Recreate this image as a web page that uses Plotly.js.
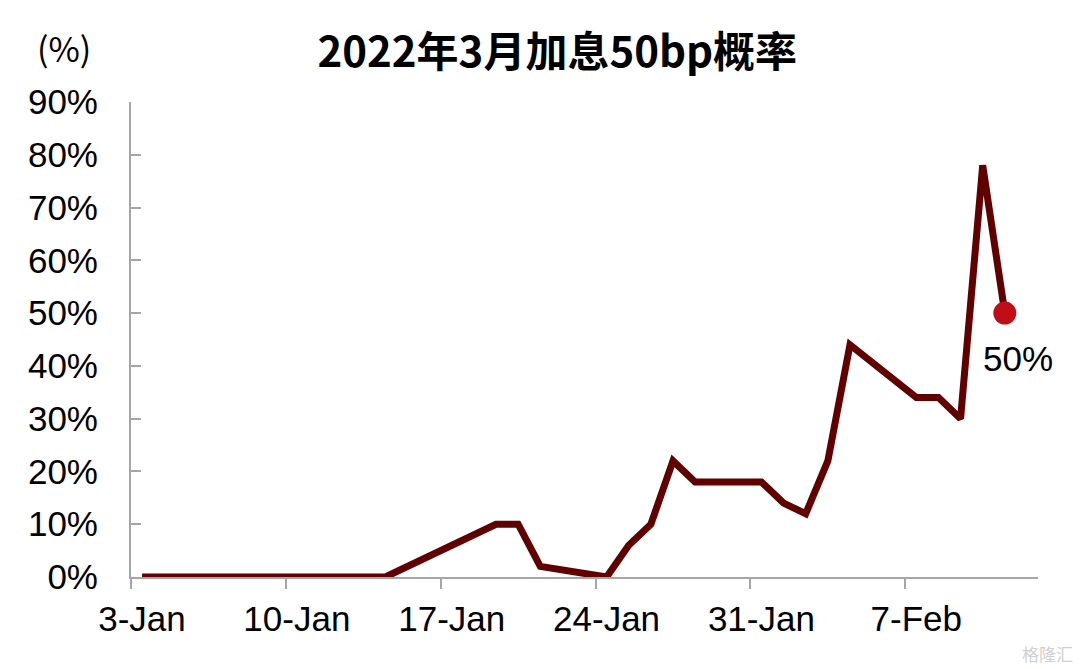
<!DOCTYPE html>
<html>
<head>
<meta charset="utf-8">
<script src="https://cdn.plot.ly/plotly-3.0.1.min.js"></script>
<style>html,body{margin:0;padding:0;background:#fff;}#chart{width:1080px;height:669px;}</style>
</head>
<body>
<div id="chart"></div>
<script>
const dates = ['2022-01-03','2022-01-04','2022-01-05','2022-01-06','2022-01-07',
  '2022-01-10','2022-01-11','2022-01-12','2022-01-13','2022-01-14',
  '2022-01-19','2022-01-20','2022-01-21','2022-01-24','2022-01-25','2022-01-26',
  '2022-01-27','2022-01-28','2022-01-31','2022-02-01','2022-02-02','2022-02-03',
  '2022-02-04','2022-02-07','2022-02-08','2022-02-09','2022-02-10','2022-02-11'];
const probs = [0,0,0,0,0, 0,0,0,0,0, 10,10,2,0,6,10, 22,18,18,14,12,22, 44,34,34,30,78,50];
const tickDates = ['2022-01-02 12:00','2022-01-09 12:00','2022-01-16 12:00','2022-01-23 12:00','2022-01-30 12:00','2022-02-06 12:00'];
const tickLabels = ['3-Jan','10-Jan','17-Jan','24-Jan','31-Jan','7-Feb'];
const yTicks = [0,10,20,30,40,50,60,70,80,90];
const yLabels = yTicks.map(v => v + '%');
const titleText = '2022年3月加息50bp概率';
const lastIdx = probs.length - 1;

const axisColor = '#a6a6a6';
const tickFont = {family: 'Liberation Sans, Arial, sans-serif', size: 35, color: '#000'};

const traces = [
  {x: dates, y: probs, type: 'scatter', mode: 'lines',
   line: {color: '#600000', width: 7, shape: 'linear'}, hoverinfo: 'skip'},
  {x: [dates[lastIdx]], y: [probs[lastIdx]], type: 'scatter', mode: 'markers',
   marker: {color: '#C00D17', size: 23}, hoverinfo: 'skip'}
];

const layout = {
  width: 1080, height: 669,
  margin: {l: 131, r: 42, t: 102, b: 92},
  paper_bgcolor: '#fff', plot_bgcolor: '#fff',
  showlegend: false,
  title: {text: '<b>' + titleText + '</b>', xref: 'container', yref: 'container',
          x: 0.516, y: 1 - 52/669, xanchor: 'center', yanchor: 'middle',
          font: {family: 'Noto Sans CJK SC, sans-serif', size: 42, color: '#000'}},
  xaxis: {type: 'date', range: ['2022-01-02 12:00', '2022-02-12 12:00'],
          tickmode: 'array', tickvals: tickDates, ticktext: tickLabels,
          ticklabelshift: 11, ticks: 'outside', ticklen: 10, tickwidth: 2, tickcolor: axisColor,
          showline: true, linecolor: axisColor, linewidth: 2, showgrid: false, zeroline: false,
          tickfont: tickFont, fixedrange: true},
  yaxis: {range: [0, 90], tickmode: 'array', tickvals: yTicks, ticktext: yLabels,
          ticks: 'inside', ticklen: 10, tickwidth: 2, tickcolor: axisColor,
          showline: true, linecolor: axisColor, linewidth: 2, showgrid: false, zeroline: false,
          tickfont: tickFont, ticklabelstandoff: 24, fixedrange: true},
  annotations: [
    {x: dates[lastIdx], y: probs[lastIdx], xref: 'x', yref: 'y', text: probs[lastIdx] + '%',
     showarrow: false, xshift: 13, yshift: -45, font: tickFont},
    {xref: 'paper', yref: 'paper', x: (64-131)/907, y: 1 + (102-47)/475,
     text: '(%)', showarrow: false, xanchor: 'center', yanchor: 'middle',
     font: {family: 'Noto Sans CJK SC, sans-serif', size: 34, color: '#000'}},
    {xref: 'paper', yref: 'paper', x: (1075-131)/907, y: -(653-577)/475,
     text: '格隆汇', showarrow: false, xanchor: 'right', yanchor: 'middle',
     font: {family: 'Noto Sans CJK SC, sans-serif', size: 17, color: '#d0d0d0'}}
  ]
};

Plotly.newPlot('chart', traces, layout, {displayModeBar: false, staticPlot: true});
</script>
</body>
</html>
